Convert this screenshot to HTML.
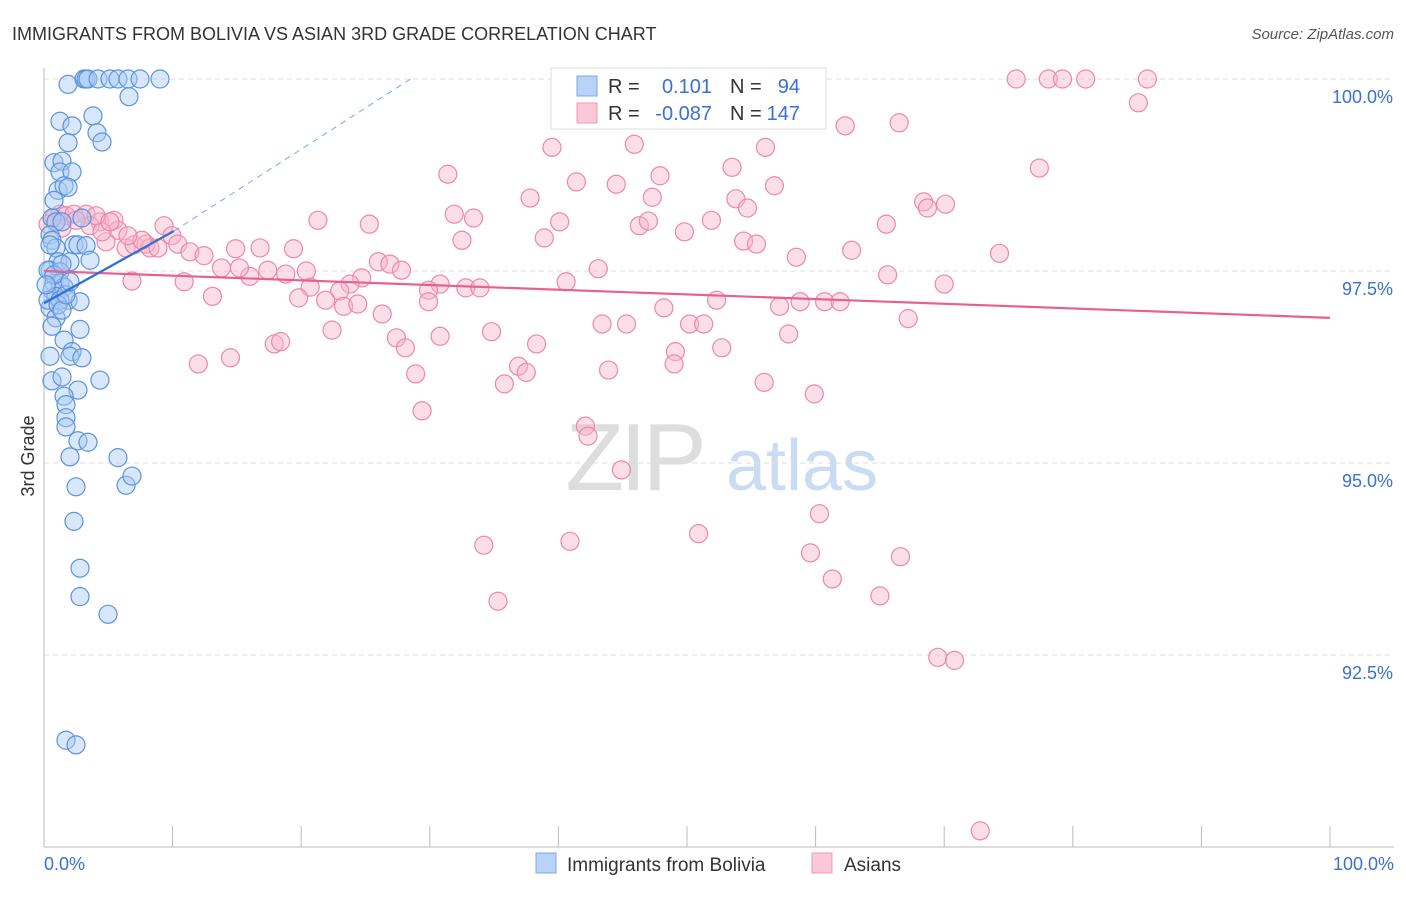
<!DOCTYPE html>
<html><head><meta charset="utf-8"><style>
body{margin:0;background:#fff;font-family:"Liberation Sans",sans-serif}
svg text{font-family:"Liberation Sans",sans-serif}
</style></head><body>
<svg id="chart" width="1406" height="892" viewBox="0 0 1406 892" xmlns="http://www.w3.org/2000/svg">
<text x="12" y="40" font-size="18" fill="#333">IMMIGRANTS FROM BOLIVIA VS ASIAN 3RD GRADE CORRELATION CHART</text>
<text x="1394" y="39" font-size="15" fill="#555" text-anchor="end" font-style="italic">Source: ZipAtlas.com</text>
<g>
<text x="634" y="490" font-size="96" fill="#ddd" text-anchor="middle" font-family="Liberation Serif" letter-spacing="-4">ZIP</text>
<text x="802" y="490" font-size="72" fill="#c9dcf2" text-anchor="middle">atlas</text>
</g>
<g id="grid"></g>
<g id="axes"></g>
<g id="pinkpts"></g>
<g id="bluepts"></g>
<g id="trends"></g>
<text transform="translate(34,456) rotate(-90)" font-size="18" fill="#333" text-anchor="middle">3rd Grade</text>
<g>
<rect x="551" y="68" width="275" height="61" fill="#fff" stroke="#ddd"/>
<rect x="577" y="76" width="20" height="20" fill="#b8d3f5" stroke="#7aa7e6"/>
<rect x="577" y="103" width="20" height="20" fill="#fcc7d6" stroke="#f09ab5"/>
<text x="608" y="93" font-size="20" fill="#333">R =</text>
<text x="712" y="93" font-size="20" fill="#3a70d0" text-anchor="end">0.101</text>
<text x="730" y="93" font-size="20" fill="#333">N =</text>
<text x="800" y="93" font-size="20" fill="#3a70d0" text-anchor="end">94</text>
<text x="608" y="120" font-size="20" fill="#333">R =</text>
<text x="712" y="120" font-size="20" fill="#3a70d0" text-anchor="end">-0.087</text>
<text x="730" y="120" font-size="20" fill="#333">N =</text>
<text x="800" y="120" font-size="20" fill="#3a70d0" text-anchor="end">147</text>
</g>
<g>
<rect x="536" y="853" width="20" height="20" fill="#b8d3f5" stroke="#7aa7e6"/>
<text x="567" y="871" font-size="19" fill="#333">Immigrants from Bolivia</text>
<rect x="812" y="853" width="20" height="20" fill="#fcc7d6" stroke="#f09ab5"/>
<text x="844" y="871" font-size="19" fill="#333">Asians</text>
</g>
</svg>
<script>
const yTicks=[100,97.5,95,92.5];
const yTickLabels=["100.0%","97.5%","95.0%","92.5%"];
const xTickLabels=["0.0%","100.0%"];
const blueX=[1.87,3.11,3.27,3.42,4.2,5.13,5.75,6.53,7.47,9.02,6.61,1.24,2.18,3.81,4.12,4.51,1.87,0.78,1.4,1.24,2.18,1.09,1.56,1.87,0.78,0.62,2.95,0.93,1.4,0.47,0.62,0.93,2.33,2.64,3.27,3.58,1.09,2.02,0.47,1.24,0.78,1.24,0.62,1.56,0.93,1.87,2.8,0.47,0.93,0.62,2.8,1.56,2.18,2.02,2.95,0.47,4.35,0.62,1.4,2.64,1.56,1.71,1.71,1.71,2.64,3.42,2.02,5.75,2.49,6.38,6.84,2.33,2.8,2.8,4.98,1.71,2.49,0.31,0.31,0.47,1.24,1.09,1.4,0.78,1.71,0.16,2.02,1.4];
const blueY=[99.93,100,100,100,100,100,100,100,100,100,99.77,99.45,99.39,99.52,99.3,99.18,99.17,98.91,98.93,98.79,98.79,98.55,98.61,98.59,98.42,98.19,98.19,98.14,98.14,97.97,97.9,97.8,97.84,97.84,97.83,97.64,97.62,97.62,97.51,97.49,97.34,97.34,97.25,97.29,97.17,97.12,97.1,97.02,96.89,96.78,96.74,96.6,96.45,96.39,96.37,96.39,96.08,96.07,96.12,95.95,95.87,95.76,95.59,95.47,95.29,95.27,95.08,95.07,94.69,94.71,94.83,94.24,93.63,93.26,93.03,91.39,91.33,97.12,97.51,97.84,97.12,97.06,96.99,97.45,97.19,97.32,97.36,97.59];
const pinkX=[75.6,78.1,79.2,81.0,85.8,85.1,77.4,62.3,66.5,39.5,45.9,56.1,31.4,41.4,44.5,47.9,53.5,56.8,37.8,47.3,53.8,54.7,68.4,68.7,70.1,31.9,33.4,21.3,25.3,40.1,46.3,47.0,51.9,65.5,49.8,32.5,38.9,54.4,55.4,62.8,58.5,74.3,14.9,16.8,19.4,26.0,26.9,27.8,43.1,65.6,70.0,40.6,30.8,29.9,32.8,33.9,24.7,23.8,23.0,20.7,18.8,20.4,17.4,16.0,15.2,13.8,10.9,13.1,19.8,21.9,23.3,24.4,26.3,29.9,48.2,52.3,57.2,58.8,60.7,61.9,67.2,43.4,45.3,50.2,51.3,34.8,30.8,27.4,22.4,28.1,38.3,57.9,49.1,52.7,17.9,18.4,12.0,14.5,28.9,36.9,37.5,43.9,49.0,35.8,56.0,59.9,29.4,42.1,42.3,44.9,60.3,34.2,40.9,50.9,59.6,66.6,61.3,35.3,65.0,69.5,70.8,72.8,0.78,1.24,1.71,2.33,3.27,4.35,5.44,5.75,4.82,6.38,7.0,7.93,8.24,8.86,9.33,9.95,10.4,11.35,12.44,6.84,0.93,0.31,1.4,3.58,2.49,4.51,4.04,7.62,6.53,5.13];
const pinkY=[100,100,100,100,100,99.69,98.84,99.39,99.43,99.11,99.15,99.11,98.76,98.66,98.63,98.74,98.85,98.61,98.45,98.46,98.44,98.32,98.4,98.32,98.37,98.24,98.19,98.16,98.11,98.14,98.09,98.15,98.16,98.11,98.01,97.9,97.93,97.89,97.85,97.77,97.68,97.73,97.79,97.8,97.79,97.62,97.59,97.51,97.53,97.45,97.33,97.36,97.33,97.25,97.28,97.28,97.41,97.33,97.24,97.29,97.46,97.5,97.51,97.43,97.54,97.54,97.36,97.17,97.15,97.12,97.04,97.07,96.94,97.1,97.02,97.12,97.04,97.1,97.1,97.1,96.88,96.81,96.81,96.81,96.81,96.71,96.65,96.63,96.73,96.5,96.55,96.68,96.45,96.5,96.55,96.58,96.29,96.37,96.16,96.26,96.18,96.21,96.29,96.03,96.05,95.9,95.68,95.48,95.35,94.91,94.34,93.93,93.98,94.08,93.83,93.78,93.49,93.2,93.27,92.47,92.43,90.21,98.19,98.24,98.22,98.24,98.24,98.14,98.16,98.03,97.88,97.8,97.84,97.85,97.8,97.8,98.09,97.96,97.85,97.75,97.7,97.37,98.14,98.11,98.06,98.09,98.16,98.01,98.22,97.9,97.96,98.14];
const blueTrend=[[0,97.08],[10.1,98.02]];
const blueDash=[[10.1,98.02],[28.5,100]];
const pinkTrend=[[0,97.5],[100,96.89]];

const NS="http://www.w3.org/2000/svg";
const X0=44,X1=1330,Y100=79,PXPER=76.8;
function sx(v){return X0+(X1-X0)*v/100;}
function sy(v){return Y100+(100-v)*PXPER;}
function mk(tag,attrs,parent){const e=document.createElementNS(NS,tag);for(const k in attrs)e.setAttribute(k,attrs[k]);parent.appendChild(e);return e;}
const grid=document.getElementById('grid'),axes=document.getElementById('axes');
yTicks.forEach((t,i)=>{
  const l=mk('line',{x1:X0,x2:1394,y1:sy(t),y2:sy(t),stroke:'#ddd','stroke-dasharray':'5,4'},grid);
  
  
  const tx=mk('text',{x:1393,y:sy(t)+24,'font-size':18,fill:'#3a70d0','text-anchor':'end'},axes);
  tx.textContent=yTickLabels[i];
  
  
});
const ya=mk('line',{x1:X0,x2:X0,y1:68,y2:847,stroke:'#bbb'},axes);


const xa=mk('line',{x1:X0,x2:1394,y1:847,y2:847,stroke:'#bbb'},axes);


for(let i=0;i<=10;i++){
  const tk=mk('line',{x1:sx(i*10),x2:sx(i*10),y1:826,y2:847,stroke:'#bbb'},axes);
  
  
}
[[0,'start',44],[100,'end',1394]].forEach((d,i)=>{
  const tx=mk('text',{x:d[2],y:870,'font-size':18,fill:'#3a70d0','text-anchor':d[1]},axes);
  tx.textContent=xTickLabels[i];
  
  
});
function pts(xs,ys,g,fill,stroke,name){
  xs.forEach((v,i)=>{
    const c=mk('circle',{cx:sx(v),cy:sy(ys[i]),r:9,fill:fill,'fill-opacity':0.45,stroke:stroke,'stroke-width':1.2},g);
    
    
  });
}
pts(pinkX,pinkY,document.getElementById('pinkpts'),'#f9b6cb','#ec88a8','asians-point');
pts(blueX,blueY,document.getElementById('bluepts'),'#a9c9f2','#5b92de','bolivia-point');
const tr=document.getElementById('trends');
function ln(p,stroke,w,dash,name){
  const a={x1:sx(p[0][0]),y1:sy(p[0][1]),x2:sx(p[1][0]),y2:sy(p[1][1]),stroke:stroke,'stroke-width':w};
  if(dash)a['stroke-dasharray']=dash;
  const l=mk('line',a,tr);
  
  
}
ln(pinkTrend,'#e8608f',2.2,null,'asians-trend-line');
ln(blueTrend,'#2f6fd6',2.2,null,'bolivia-trend-line');
ln(blueDash,'#7aa7e6',1,'6,5','bolivia-trend-extension');
</script>
</body></html>
